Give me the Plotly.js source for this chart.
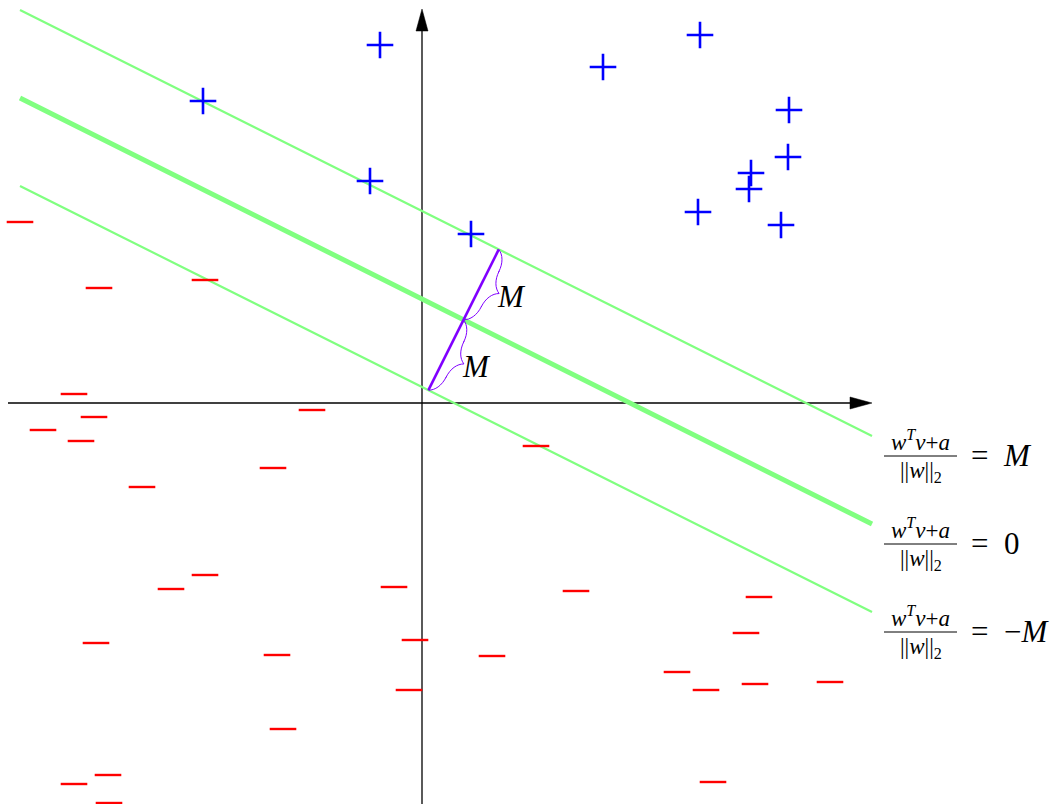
<!DOCTYPE html>
<html><head><meta charset="utf-8">
<script src="https://cdn.plot.ly/plotly-3.0.1.min.js"></script>
<style>html,body{margin:0;padding:0;background:#fff;overflow:hidden}#chart{width:1063px;height:804px}</style>
</head><body><div id="chart"></div>
<script>
// ---------------- data ----------------
const plusX = [6.95, -1.05, 4.525, -5.475, 9.175, 9.15, 8.225, 8.175, -1.3, 6.9, 8.975, 1.225];
const plusY = [9.2, 8.95, 8.4, 7.55, 7.325, 6.15, 5.75, 5.35, 5.55, 4.775, 4.45, 4.225];

const minusX = [-10.05, -8.075, -5.425, -8.7, -8.2, -9.475, -8.525, -2.75, -3.725, -7.0,
                -5.425, -6.275, -0.7, -8.15, -0.175, -3.625, -0.325, -3.475, -7.85, -8.7, -7.825,
                2.85, 3.85, 1.75, 8.425, 8.1, 6.375, 7.1, 8.325, 10.2, 7.275];
const minusY = [4.525, 2.875, 3.075, 0.225, -0.35, -0.675, -0.95, -0.175, -1.625, -2.1,
                -4.3, -4.65, -4.6, -6.0, -5.925, -6.3, -7.175, -8.15, -9.3, -9.525, -10.0,
                -1.075, -4.7, -6.325, -4.85, -5.75, -6.725, -7.175, -7.025, -6.975, -9.475];

const marginSlope = -0.5;
const marginIntercepts = [4.8, 2.6, 0.4];          // upper (= M), separating (= 0), lower (= -M)
const marginXRange = [-10.05, 11.25];
const marginRhs = ['=\u2002<i>M</i>', '=\u20020', '=\u2002\u2212<i>M</i>'];
const fracNumerator = '<i>w</i><sup><i>T</i></sup><i>v</i>+<i>a</i>';
const fracDenominator = '||<i>w</i>||<sub>2</sub>';
const braceLabel = '<i>M</i>';

const axisXRange = [-10.35, 11.25];
const axisYRange = [-10.3, 9.85];

// ---------------- style / geometry helpers ----------------
const W = 1063, H = 804, PX = 40, OX = 422, OY = 403;   // px per unit, origin pixel
const GREEN = '#80ff80', PURPLE = '#8000ff';
const FONT = '"Liberation Serif", "DejaVu Serif", serif';

function foot(b) { // foot of perpendicular from origin to y = b + m x
  const m = marginSlope, t = b / (m * m + 1);
  return [-m * t, t];
}
const feet = marginIntercepts.map(foot); // upper, middle, lower

const traces = [];

// axes
traces.push({x: [axisXRange[0], axisXRange[1] - 21 / PX], y: [0, 0], mode: 'lines',
  line: {color: '#000', width: 1.3}, hoverinfo: 'skip'});
traces.push({x: [0, 0], y: [axisYRange[0], axisYRange[1] - 21 / PX], mode: 'lines',
  line: {color: '#000', width: 1.3}, hoverinfo: 'skip'});
const aL = 22 / PX, aW = 6 / PX;
traces.push({x: [axisXRange[1], axisXRange[1] - aL, axisXRange[1] - aL, axisXRange[1]],
  y: [0, aW, -aW, 0], mode: 'lines', fill: 'toself', fillcolor: '#000',
  line: {color: '#000', width: 0.5}, hoverinfo: 'skip'});
traces.push({x: [0, aW, -aW, 0],
  y: [axisYRange[1], axisYRange[1] - aL, axisYRange[1] - aL, axisYRange[1]], mode: 'lines',
  fill: 'toself', fillcolor: '#000', line: {color: '#000', width: 0.5}, hoverinfo: 'skip'});

// margin lines
marginIntercepts.forEach((b, i) => {
  traces.push({x: marginXRange.slice(), y: marginXRange.map(x => b + marginSlope * x),
    mode: 'lines', line: {color: GREEN, width: i === 1 ? 5 : 2.2}, hoverinfo: 'skip'});
});

// purple perpendicular segment
traces.push({x: [feet[2][0], feet[0][0]], y: [feet[2][1], feet[0][1]], mode: 'lines',
  line: {color: PURPLE, width: 2.6}, hoverinfo: 'skip'});

// points
traces.push({x: plusX, y: plusY, mode: 'markers', hoverinfo: 'skip',
  marker: {symbol: 'cross-thin', size: 19, line: {color: '#0000ff', width: 2.6}}});
traces.push({x: minusX, y: minusY, mode: 'markers', hoverinfo: 'skip',
  marker: {symbol: 'line-ew', size: 19, line: {color: '#ff0000', width: 2.4}}});

// braces
const shapes = [];
const annotations = [];
const nrm = [1 / Math.hypot(1, marginSlope), marginSlope / Math.hypot(1, marginSlope)];
function brace(S, E, a) {
  const dx = E[0] - S[0], dy = E[1] - S[1], L = Math.hypot(dx, dy);
  const u = [dx / L, dy / L], h = L / 2;
  const P = (p, q) => (S[0] + p * u[0] + q * nrm[0]).toFixed(4) + ',' + (S[1] + p * u[1] + q * nrm[1]).toFixed(4);
  const path = `M${P(0,0)} C${P(.15*a,.3*a)} ${P(.5*a,.5*a)} ${P(a,.5*a)} L${P(h-a,.5*a)} ` +
    `C${P(h-.5*a,.5*a)} ${P(h-.15*a,.7*a)} ${P(h,a)} C${P(h+.15*a,.7*a)} ${P(h+.5*a,.5*a)} ${P(h+a,.5*a)} ` +
    `L${P(L-a,.5*a)} C${P(L-.5*a,.5*a)} ${P(L-.15*a,.3*a)} ${P(L,0)}`;
  shapes.push({type: 'path', xref: 'x', yref: 'y', path, line: {color: PURPLE, width: 1}});
  const tip = [S[0] + h * u[0] + a * nrm[0], S[1] + h * u[1] + a * nrm[1]];
  annotations.push({x: tip[0], y: tip[1], xref: 'x', yref: 'y', text: braceLabel, showarrow: false,
    xanchor: 'left', yanchor: 'middle', xshift: -4, yshift: -3,
    font: {family: FONT, size: 31, color: '#000'}});
}
brace(feet[0], feet[1], 20 / PX);
brace(feet[1], feet[2], 20 / PX);

// margin labels
marginIntercepts.forEach((b, i) => {
  const ex = marginXRange[1], ey = b + marginSlope * ex;
  const barY = ey - 20 / PX;
  shapes.push({type: 'line', xref: 'x', yref: 'y', x0: ex + 12 / PX, x1: ex + 85 / PX,
    y0: barY, y1: barY, line: {color: '#000', width: 1}});
  annotations.push({x: ex + 48.5 / PX, y: barY, xref: 'x', yref: 'y', text: fracNumerator,
    showarrow: false, xanchor: 'center', yanchor: 'bottom', yshift: 0, borderpad: 0,
    font: {family: FONT, size: 23, color: '#000'}});
  annotations.push({x: ex + 48.5 / PX, y: barY, xref: 'x', yref: 'y', text: fracDenominator,
    showarrow: false, xanchor: 'center', yanchor: 'top', yshift: -1, borderpad: 0,
    font: {family: FONT, size: 23, color: '#000'}});
  annotations.push({x: ex + 98 / PX, y: barY, xref: 'x', yref: 'y', text: marginRhs[i],
    showarrow: false, xanchor: 'left', yanchor: 'middle', yshift: 1, borderpad: 0,
    font: {family: FONT, size: 31, color: '#000'}});
});

const layout = {
  width: W, height: H, margin: {l: 0, r: 0, t: 0, b: 0, pad: 0},
  paper_bgcolor: '#fff', plot_bgcolor: '#fff', showlegend: false,
  xaxis: {range: [-OX / PX, (W - OX) / PX], visible: false, fixedrange: true},
  yaxis: {range: [-(H - OY) / PX, OY / PX], visible: false, fixedrange: true},
  shapes, annotations
};
Plotly.newPlot('chart', traces, layout, {displayModeBar: false, staticPlot: true});
</script></body></html>
